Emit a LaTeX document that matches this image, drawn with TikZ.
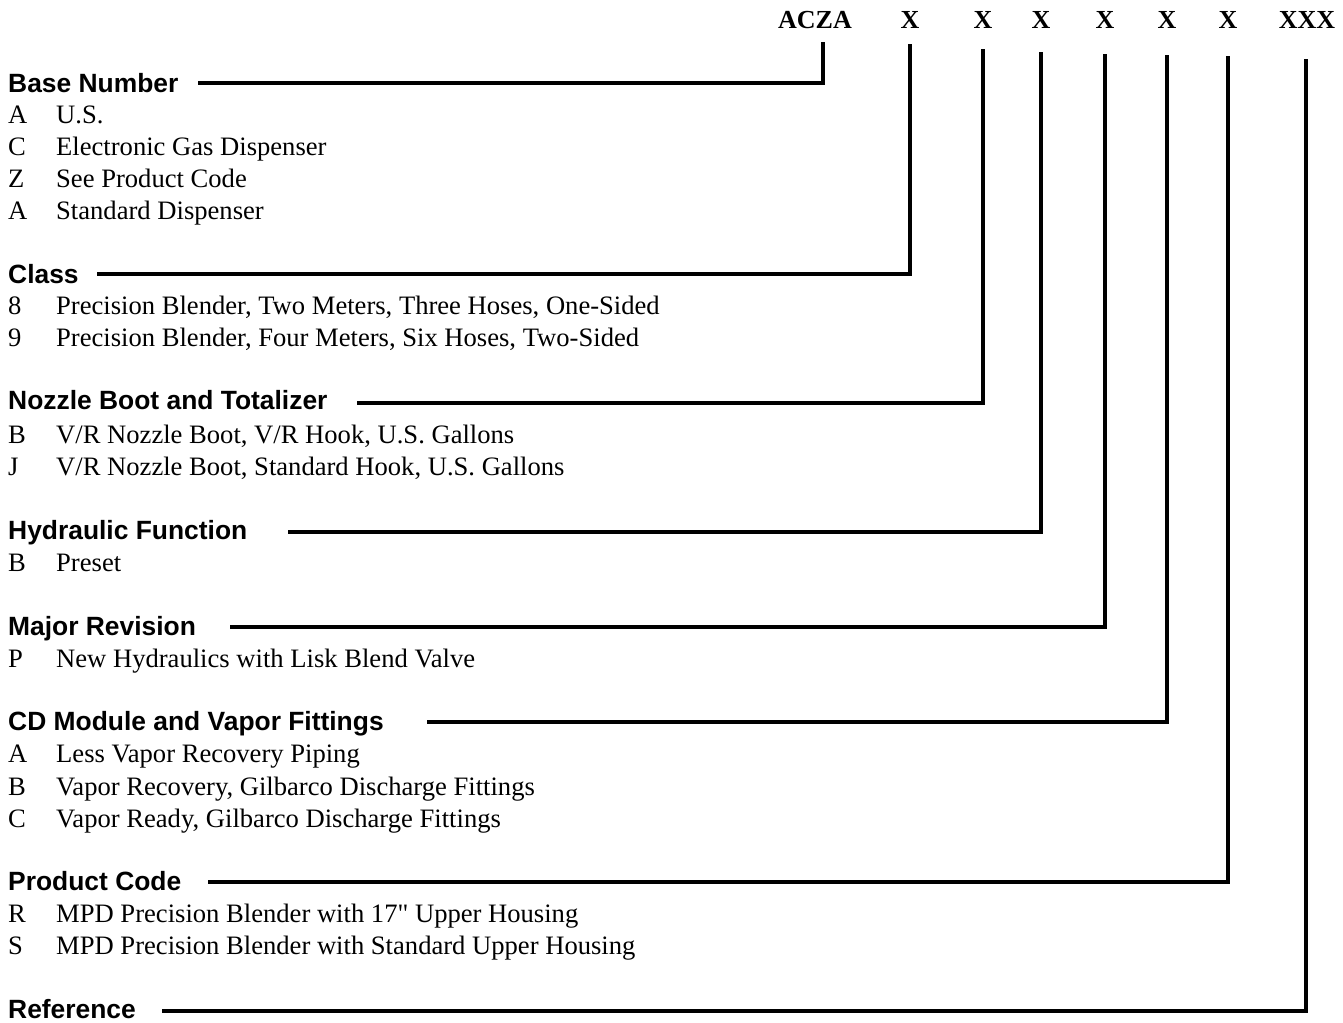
\documentclass[tikz,border=0pt]{standalone}
\usepackage{fontspec}
\setmainfont{Liberation Serif}[Ligatures=TeXOff]
\newfontfamily\headfont{Liberation Sans}
\begin{document}
\begin{tikzpicture}[x=1pt,y=-1pt,
  code/.style={font=\fontsize{26}{30}\selectfont\bfseries, inner sep=0pt},
  head/.style={font=\headfont\fontsize{26.4}{30}\selectfont\bfseries, anchor=west, inner sep=0pt, text height=18.8pt, text depth=0pt},
  item/.style={font=\fontsize{26.6}{30}\selectfont, anchor=west, inner sep=0pt, text height=17.4pt, text depth=0pt},
  lead/.style={line width=3.2pt, line cap=butt, line join=miter}]
\useasboundingbox (0,0) rectangle (1343,1022);
% code letters
\node[code] (c0) at (815,20) {ACZA};
\node[code] (c1) at (910,20) {X};
\node[code] (c2) at (983,20) {X};
\node[code] (c3) at (1041,20) {X};
\node[code] (c4) at (1105,20) {X};
\node[code] (c5) at (1167,20) {X};
\node[code] (c6) at (1228,20) {X};
\node[code] (c7) at (1307,20) {XXX};
\coordinate (t0) at (823,42);
\coordinate (t1) at (910,44);
\coordinate (t2) at (983,49);
\coordinate (t3) at (1041,52);
\coordinate (t4) at (1105,54);
\coordinate (t5) at (1167,55);
\coordinate (t6) at (1228,56);
\coordinate (t7) at (1306,59);
% headings
\node[head] (h0) at (8,83) {Base Number};
\node[head] (h1) at (8,274) {Class};
\node[head] (h2) at (8,400) {Nozzle Boot and Totalizer};
\node[head] (h3) at (8,530) {Hydraulic Function};
\node[head] (h4) at (8,626) {Major Revision};
\node[head] (h5) at (8,721) {CD Module and Vapor Fittings};
\node[head] (h6) at (8,881) {Product Code};
\node[head] (h7) at (8,1009) {Reference};
% leader starts
\coordinate (s0) at (198,83);
\coordinate (s1) at (97,274);
\coordinate (s2) at (357,403);
\coordinate (s3) at (288,532);
\coordinate (s4) at (230,627);
\coordinate (s5) at (427,722);
\coordinate (s6) at (208,882);
\coordinate (s7) at (162,1011);
% leaders
\foreach \i in {0,...,7} { \draw[lead] (s\i) -| (t\i); }
% items
\foreach \y/\k/\t [count=\i] in {
  115/A/U.S.,
  147/C/Electronic Gas Dispenser,
  179/Z/See Product Code,
  211/A/Standard Dispenser,
  306/8/{Precision Blender, Two Meters, Three Hoses, One-Sided},
  338/9/{Precision Blender, Four Meters, Six Hoses, Two-Sided},
  435/B/{V/R Nozzle Boot, V/R Hook, U.S. Gallons},
  467/J/{V/R Nozzle Boot, Standard Hook, U.S. Gallons},
  563/B/Preset,
  659/P/New Hydraulics with Lisk Blend Valve,
  754/A/Less Vapor Recovery Piping,
  787/B/{Vapor Recovery, Gilbarco Discharge Fittings},
  819/C/{Vapor Ready, Gilbarco Discharge Fittings},
  914/R/{MPD Precision Blender with 17" Upper Housing},
  946/S/MPD Precision Blender with Standard Upper Housing}
{
  \node[item] (k\i) at (8,\y) {\k};
  \node[item] (d\i) at (56,\y) {\t};
}
\end{tikzpicture}
\end{document}
